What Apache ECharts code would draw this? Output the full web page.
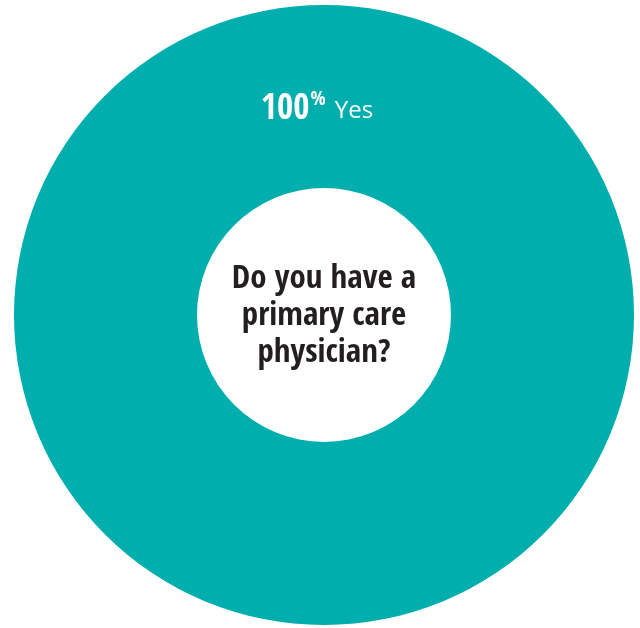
<!DOCTYPE html>
<html>
<head>
<meta charset="utf-8">
<script src="https://cdn.jsdelivr.net/npm/echarts@6/dist/echarts.min.js"></script>
<style>
  html, body { margin: 0; padding: 0; background: #fff; }
  #chart { width: 640px; height: 628px; }
</style>
</head>
<body>
<div id="chart"></div>
<script>
// data
const categories = ["Yes"];
const values = [100];
const question = "Do you have a\nprimary care\nphysician?";

const condensed = "'Open Sans Condensed', 'Roboto Condensed', 'DejaVu Sans Condensed', sans-serif";
const regular = "'Open Sans', 'Noto Sans', sans-serif";

const myChart = echarts.init(document.getElementById("chart"));

const options = {
  animation: false,
  color: ["#00aeae"],
  series: [
    {
      type: "pie",
      silent: true,
      center: [324, 315],
      radius: [127, 310],
      startAngle: 270,
      clockwise: true,
      label: {
        show: true,
        position: "inside",
        formatter: function (p) {
          return "{num|" + Math.round(p.percent) + "}{pct|%}{yes| " + p.name + "}";
        },
        rich: {
          num: { color: "#fff", fontFamily: condensed, fontWeight: "bold", fontSize: 35, lineHeight: 40, verticalAlign: "bottom" },
          pct: { color: "#fff", fontFamily: condensed, fontWeight: "bold", fontSize: 20, lineHeight: 22, verticalAlign: "top", padding: [2, 0, 0, 1] },
          yes: { color: "#fff", fontFamily: regular, fontSize: 24, lineHeight: 40, verticalAlign: "bottom", padding: [0, 0, 4, 3] },
        },
      },
      labelLayout: { dx: -7, dy: 14 },
      labelLine: { show: false },
      data: categories.map((c, i) => ({ name: c, value: values[i] })),
    },
  ],
  graphic: [
    {
      type: "text",
      x: 324,
      y: 316,
      style: {
        text: question,
        fill: "#231f20",
        font: "bold 33px " + condensed,
        lineHeight: 37,
        align: "center",
        verticalAlign: "middle",
      },
    },
  ],
};

myChart.setOption(options);
window.onresize = function () {
  myChart.resize();
};
</script>
</body>
</html>
